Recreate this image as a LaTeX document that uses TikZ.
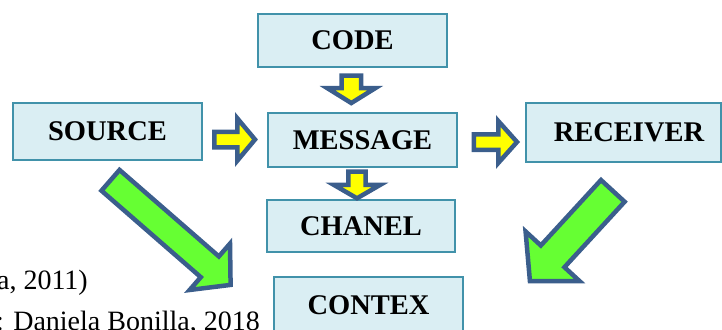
\documentclass[tikz,border=0pt]{standalone}
\usepackage{fontspec}
\setmainfont{Liberation Serif}
\definecolor{boxfill}{HTML}{DAEEF3}
\definecolor{boxline}{HTML}{4192AA}
\definecolor{arrline}{HTML}{3B5E8C}
\definecolor{arryellow}{HTML}{FFFF00}
\definecolor{arrgreen}{HTML}{66FF33}
% block arrow: style, tail point, angle, length, body half-width, head half-width, head length
\newcommand\blockarr[7]{%
  \draw[#1, shift={(#2)}, rotate=#3]
    (0,-#5) -- ({#4-#7},-#5) -- ({#4-#7},-#6) -- (#4,0)
    -- ({#4-#7},#6) -- ({#4-#7},#5) -- (0,#5) -- cycle;}
\begin{document}
\begin{tikzpicture}[x=1pt,y=-1pt,
  box/.style={draw=boxline, fill=boxfill, line width=2pt, inner sep=0pt,
    font=\fontsize{28.5}{30}\selectfont\bfseries},
  smallarr/.style={draw=arrline, fill=arryellow, line width=4.5pt},
  bigarr/.style={draw=arrline, fill=arrgreen, line width=4.5pt},
  cite/.style={inner sep=0pt, font=\fontsize{28}{30}\selectfont}]
\useasboundingbox (0,0) rectangle (722,329);
\clip (0,0) rectangle (722,329);

% boxes
\node[box, minimum width=189pt, minimum height=53pt] (code) at (352.5,40.5) {CODE};
\node[box, minimum width=189pt, minimum height=57pt] (source) at (107.5,131.5) {SOURCE};
\node[box, minimum width=189pt, minimum height=54pt] (message) at (362.5,140) {MESSAGE};
\node[box, minimum width=195pt, minimum height=59pt] (receiver) at (623.5,132.5) {\hspace*{11pt}RECEIVER};
\node[box, minimum width=188pt, minimum height=52pt] (chanel) at (361,226) {CHANEL};
\node[box, minimum width=189pt, minimum height=57pt] (contex) at (368.5,305.5) {CONTEX};

% block arrows between the boxes
\blockarr{smallarr}{214.25,139.5}{0}{40.75}{7.75}{21.25}{17.75}
\blockarr{smallarr}{473.75,142}{0}{43.25}{7.75}{21}{18.75}
\blockarr{smallarr}{351.3,75.55}{-90}{27.5}{9.75}{23.9}{14.85}
\blockarr{smallarr}{357,171.55}{-90}{26.75}{8.55}{23.05}{13.35}
\blockarr{bigarr}{110.5,180.3}{-41.05}{159.25}{13.75}{30.75}{27.55}
\blockarr{bigarr}{612.8,190.9}{-132.6}{122.45}{16.05}{36.75}{33.55}

% citation lines
\node[cite, anchor=base east] (cite1) at (88,289) {a, 2011)};
\node[cite, anchor=base east] (cite2) at (260,330) {: Daniela Bonilla, 2018};
\end{tikzpicture}
\end{document}
